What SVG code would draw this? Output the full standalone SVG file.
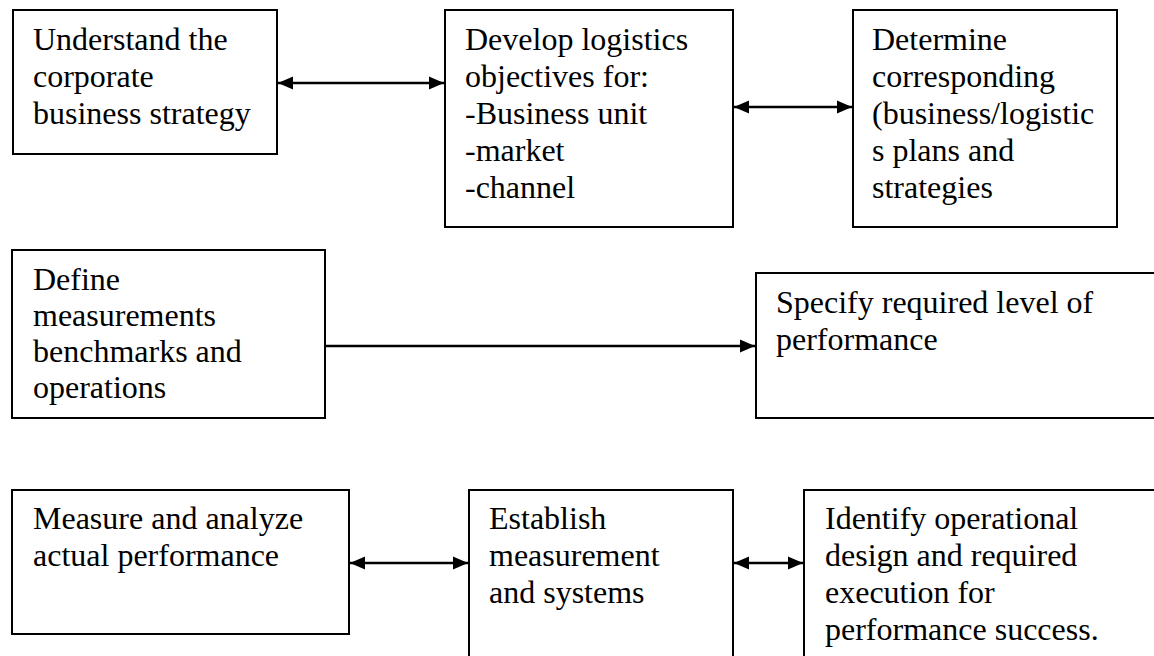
<svg xmlns="http://www.w3.org/2000/svg" width="1154" height="656" viewBox="0 0 1154 656">
<style>
.box{fill:#fff;stroke:#000;stroke-width:2}
.t{font-family:"Liberation Serif","Times New Roman",serif;font-size:32px;fill:#000}
.c{stroke:#000;stroke-width:2.5;fill:none}
</style>
<defs>
<marker id="ah" markerUnits="userSpaceOnUse" markerWidth="16" markerHeight="14" refX="15" refY="7" orient="auto-start-reverse">
<path d="M0,0.5 L15,7 L0,13.5 Z" fill="#000"/>
</marker>
</defs>
<rect width="1154" height="656" fill="#fff"/>
<g id="n1"><rect class="box" x="13" y="10" width="264" height="144"/>
<text class="t"><tspan x="33" y="50">Understand the</tspan><tspan x="33" y="87">corporate</tspan><tspan x="33" y="124">business strategy</tspan></text></g>
<g id="n2"><rect class="box" x="445" y="10" width="288" height="217"/>
<text class="t"><tspan x="465" y="50">Develop logistics</tspan><tspan x="465" y="87">objectives for:</tspan><tspan x="465" y="124">-Business unit</tspan><tspan x="465" y="161">-market</tspan><tspan x="465" y="198">-channel</tspan></text></g>
<g id="n3"><rect class="box" x="853" y="10" width="264" height="217"/>
<text class="t"><tspan x="872" y="50">Determine</tspan><tspan x="872" y="87">corresponding</tspan><tspan x="872" y="124">(business/logistic</tspan><tspan x="872" y="161">s plans and</tspan><tspan x="872" y="198">strategies</tspan></text></g>
<g id="n4"><rect class="box" x="12" y="250" width="313" height="168"/>
<text class="t"><tspan x="33" y="290">Define</tspan><tspan x="33" y="326">measurements</tspan><tspan x="33" y="362">benchmarks and</tspan><tspan x="33" y="398">operations</tspan></text></g>
<g id="n5"><rect class="box" x="756" y="273" width="410" height="145"/>
<text class="t"><tspan x="776" y="313">Specify required level of</tspan><tspan x="776" y="350">performance</tspan></text></g>
<g id="n6"><rect class="box" x="12" y="490" width="337" height="144"/>
<text class="t"><tspan x="33" y="529">Measure and analyze</tspan><tspan x="33" y="566">actual performance</tspan></text></g>
<g id="n7"><rect class="box" x="469" y="490" width="264" height="190"/>
<text class="t"><tspan x="489" y="529">Establish</tspan><tspan x="489" y="566">measurement</tspan><tspan x="489" y="603">and systems</tspan></text></g>
<g id="n8"><rect class="box" x="804" y="490" width="370" height="190"/>
<text class="t"><tspan x="825" y="529">Identify operational</tspan><tspan x="825" y="566">design and required</tspan><tspan x="825" y="603">execution for</tspan><tspan x="825" y="640">performance success.</tspan></text></g>
<g id="connectors">
<line class="c" x1="278" y1="83" x2="444" y2="83" marker-start="url(#ah)" marker-end="url(#ah)"/>
<line class="c" x1="734" y1="107" x2="852" y2="107" marker-start="url(#ah)" marker-end="url(#ah)"/>
<line class="c" x1="326" y1="346" x2="755" y2="346" marker-end="url(#ah)"/>
<line class="c" x1="350" y1="563" x2="468" y2="563" marker-start="url(#ah)" marker-end="url(#ah)"/>
<line class="c" x1="734" y1="563" x2="803" y2="563" marker-start="url(#ah)" marker-end="url(#ah)"/>
</g>
</svg>
